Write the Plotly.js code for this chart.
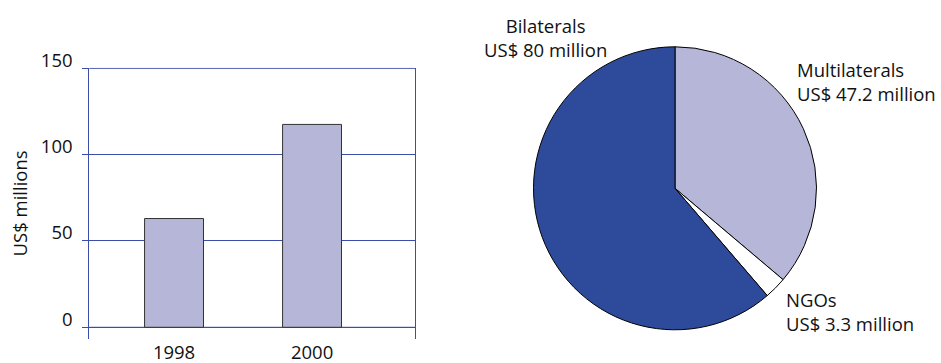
<!DOCTYPE html>
<html>
<head>
<meta charset="utf-8">
<script src="https://cdn.plot.ly/plotly-3.0.1.min.js"></script>
<style>html,body{margin:0;padding:0;background:#fff;}#chart{width:941px;height:363px;}</style>
</head>
<body>
<div id="chart"></div>
<script>
const years = ['1998', '2000'];
const fundingMillions = [63, 117.5];
const yTickVals = [0, 50, 100, 150];
const yTickText = ['0', '50', '100', '150'];
const donorTypes = ['Multilaterals', 'NGOs', 'Bilaterals'];
const donorAmounts = [47.2, 3.3, 80];
const donorAmountText = ['US$ 47.2 million', 'US$ 3.3 million', 'US$ 80 million'];
const pieColors = ['#b6b6d8', '#ffffff', '#2e4a9a'];

const FONT = 'Open Sans, Noto Sans, sans-serif';
const FS = 18.5;
const GRID = '#3a4da8';
const W = 941, H = 363;
const px = x => x / W;
const py = y => 1 - y / H;

const traces = [
  {
    type: 'bar',
    x: [0, 1],
    y: fundingMillions,
    width: 0.427,
    marker: {color: '#b6b6d8', line: {color: '#333333', width: 1}},
    xaxis: 'x', yaxis: 'y',
    hoverinfo: 'x+y'
  },
  {
    type: 'pie',
    labels: donorTypes,
    values: donorAmounts,
    sort: false,
    direction: 'clockwise',
    rotation: 0,
    textinfo: 'none',
    marker: {colors: pieColors, line: {color: '#000000', width: 1}},
    domain: {x: [px(533.5), px(816.5)], y: [py(329.8), py(46.8)]},
    showlegend: false
  }
];

function label(i, x, y, anchor) {
  return {text: donorTypes[i] + '<br>' + donorAmountText[i], x: px(x), y: py(y),
    xref: 'paper', yref: 'paper', xanchor: anchor, yanchor: 'middle', align: anchor,
    showarrow: false, borderpad: 0,
    font: {family: FONT, size: FS, color: '#111111'}};
}

// horizontal rules at the axis ends (0 and 150), which Plotly omits from the grid
const edgeRules = [yTickVals[0], yTickVals[yTickVals.length - 1]].map(v => ({
  type: 'line', xref: 'x domain', yref: 'y', x0: 0, x1: 1, y0: v, y1: v,
  line: {color: GRID, width: 1}, layer: 'below'
}));

const layout = {
  width: W, height: H,
  margin: {l: 0, r: 0, t: 0, b: 0},
  paper_bgcolor: '#ffffff',
  plot_bgcolor: '#ffffff',
  showlegend: false,
  font: {family: FONT, size: FS, color: '#111111'},
  xaxis: {
    domain: [px(89.3), px(415)],
    range: [-0.614, 1.746],
    tickvals: [0, 1],
    ticktext: years,
    showgrid: false,
    zeroline: false,
    showline: false,
    ticks: '',
    ticklabelstandoff: 0,
    tickfont: {family: FONT, size: FS, color: '#111111'},
    fixedrange: true
  },
  yaxis: {
    domain: [py(339), py(67.8)],
    range: [-6.78, 150.3],
    tickvals: yTickVals,
    ticktext: yTickText,
    showgrid: true,
    gridcolor: GRID,
    gridwidth: 1,
    zeroline: false,
    showline: true,
    mirror: true,
    linecolor: GRID,
    linewidth: 1,
    ticks: 'outside',
    ticklen: 6,
    tickcolor: GRID,
    ticklabelshift: -8,
    ticklabelstandoff: 6,
    tickfont: {family: FONT, size: FS, color: '#111111'},
    title: {text: 'US$ millions', font: {family: FONT, size: FS, color: '#111111'}, standoff: 8},
    fixedrange: true
  },
  shapes: edgeRules,
  annotations: [
    label(2, 545, 37.5, 'center'),
    label(0, 796, 81, 'left'),
    label(1, 785, 311, 'left')
  ]
};

Plotly.newPlot('chart', traces, layout, {displayModeBar: false, staticPlot: true});
</script>
</body>
</html>
